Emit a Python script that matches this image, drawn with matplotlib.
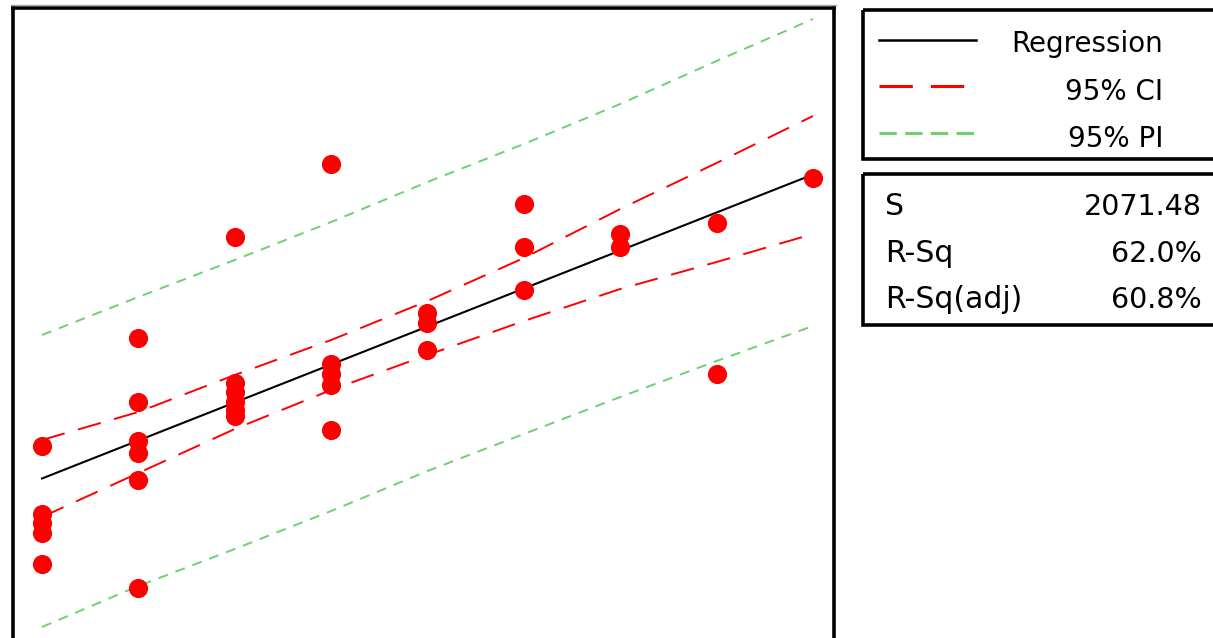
import matplotlib
matplotlib.use("Agg")
import matplotlib.pyplot as plt
from matplotlib.patches import Rectangle
from matplotlib.lines import Line2D

plt.rcParams['font.family'] = ['DejaVu Sans']
plt.rcParams['lines.scale_dashes'] = False

# ---------------- data ----------------
x_levels = [1, 2, 3, 4, 5, 6, 7, 8, 9]

obs_x = [1, 1, 1, 1, 1,
         2, 2, 2, 2, 2, 2,
         3, 3, 3, 3, 3, 3,
         4, 4, 4, 4, 4,
         5, 5, 5,
         6, 6, 6,
         7, 7,
         8, 8,
         9]
obs_y = [6420, 4380, 4110, 3810, 2880,
         9660, 7740, 6570, 6210, 5400, 2160,
         12690, 8310, 8040, 7740, 7500, 7320,
         14880, 8880, 8580, 8250, 6900,
         10410, 10110, 9300,
         13680, 12390, 11100,
         12780, 12390,
         13110, 8580,
         14460]

fit_y = [5445, 6585, 7725, 8865, 10005, 11145, 12285, 13425, 14565]
ci_upper = [6600, 7440, 8550, 9600, 10770, 12060, 13530, 14910, 16320]
ci_lower = [4290, 5610, 6930, 8100, 9150, 10170, 11130, 11940, 12780]
pi_upper = [9750, 10890, 12000, 13140, 14340, 15480, 16680, 17970, 19230]
pi_lower = [990, 2220, 3330, 4470, 5670, 6780, 7890, 8970, 10020]

legend_labels = ["Regression", "95% CI", "95% PI"]
stat_names = ["S", "R-Sq", "R-Sq(adj)"]
stat_values = ["2071.48", "62.0%", "60.8%"]

# ---------------- figure ----------------
W, H = 1213, 638
fig = plt.figure(figsize=(W / 100, H / 100), dpi=100)

def fx(px):
    return px / W

def fy(py):
    return 1 - py / H

left_px, right_px, top_px, bot_px = 12.5, 833.5, 8, 648
ax = fig.add_axes([fx(left_px), fy(bot_px), fx(right_px) - fx(left_px), fy(top_px) - fy(bot_px)])
ax.set_xlim(0.694, 9.213)
ax.set_ylim(360, 19560)
for sp in ax.spines.values():
    sp.set_linewidth(2.6)
    sp.set_color('black')
ax.set_xticks([])
ax.set_yticks([])

green = '#6fd06f'
ax.plot(x_levels, pi_upper, color=green, lw=1.4, dashes=(7.2, 5.8), zorder=2)
ax.plot(x_levels, pi_lower, color=green, lw=1.4, dashes=(7.2, 5.8), zorder=2)
ax.plot(x_levels, ci_upper, color='#ff0000', lw=1.4, dashes=(17, 10), zorder=3)
ax.plot(x_levels, ci_lower, color='#ff0000', lw=1.4, dashes=(17, 10), zorder=3)
ax.plot(x_levels, fit_y, color='black', lw=1.5, zorder=4)
ax.plot(obs_x, obs_y, 'o', color='#ff0000', markersize=13.8, markeredgewidth=0, zorder=5)

# ---------------- overlay for legend / stats ----------------
ov = fig.add_axes([0, 0, 1, 1])
ov.set_xlim(0, W)
ov.set_ylim(H, 0)
ov.axis('off')

# thin grey line above plot frame
ov.add_line(Line2D([11, 836], [4.5, 4.5], color='#a8a8a8', lw=1.0))

ov.add_patch(Rectangle((863, 10), 400, 149, fill=False, ec='black', lw=2.6))
ov.add_patch(Rectangle((863, 174), 400, 151, fill=False, ec='black', lw=2.6))

ov.add_line(Line2D([879, 976], [40, 40], color='black', lw=1.8))
ov.add_line(Line2D([879, 976], [86, 86], color='#ff0000', lw=2.2, dashes=(24, 13)))
ov.add_line(Line2D([879, 976], [133, 133], color=green, lw=2.2, dashes=(12.5, 6)))

leg_base = [52, 100, 147]
for lab, b in zip(legend_labels, leg_base):
    ov.text(1163, b, lab, ha='right', va='baseline', fontsize=20, color='black')

stat_base = [215, 262, 308]
for name, val, b in zip(stat_names, stat_values, stat_base):
    ov.text(885, b, name, ha='left', va='baseline', fontsize=21.5, color='black')
    ov.text(1202, b, val, ha='right', va='baseline', fontsize=20.5, color='black')

fig.savefig('out.png', dpi=100)
